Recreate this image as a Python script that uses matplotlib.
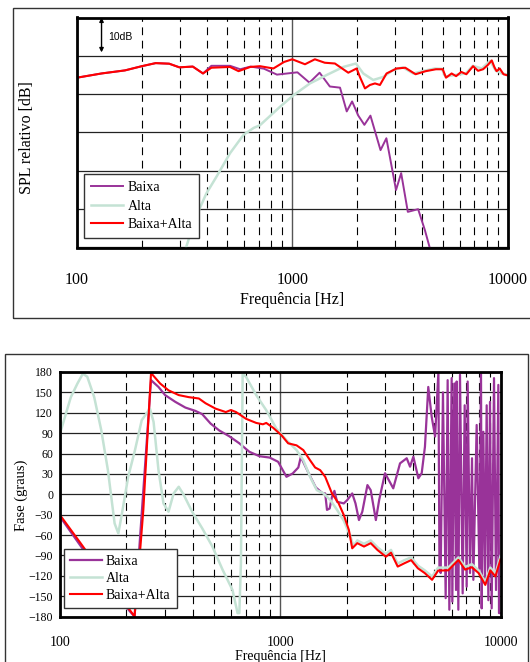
import matplotlib
matplotlib.use("Agg")
import matplotlib.pyplot as plt
from matplotlib.patches import Rectangle
from matplotlib.ticker import FixedLocator, NullFormatter

plt.rcParams['font.family'] = ['Liberation Serif', 'DejaVu Serif']

# ---------------- SPL (top chart) ----------------
f_spl_baixa = [100, 130, 167, 200, 232, 268, 299, 345, 385, 421, 470, 514, 573, 640, 738,
               849, 1057, 1202, 1340, 1495, 1667, 1791, 1897, 2027, 2163, 2308, 2571,
               2737, 3035, 3206, 3443, 3844, 4134, 4398]
spl_baixa = [-5.7, -4.6, -3.8, -2.7, -1.9, -2.05, -3.0, -2.8, -4.6, -2.6, -2.6, -2.6, -3.5,
             -2.8, -3.35, -4.9, -4.3, -7.0, -4.4, -8.0, -8.3, -14.5, -11.9, -15.6, -18.0,
             -15.6, -24.6, -21.5, -35.0, -30.6, -40.7, -40.0, -45.5, -51.0]

f_spl_alta = [321, 357, 399, 445, 514, 594, 662, 708, 877, 1012, 1208, 1445, 1726, 1976,
              2138, 2377, 2648, 2945, 3260, 3650, 4100, 4600, 4950, 5150, 5700, 6400, 6900,
              7600, 8300, 8800, 9400, 10000]
spl_alta = [-50.0, -42.0, -35.9, -31.5, -25.4, -20.6, -18.8, -18.1, -13.3, -10.3, -7.2, -5.0,
            -2.9, -2.0, -4.6, -6.3, -5.5, -3.7, -3.0, -4.6, -3.9, -3.3, -3.4, -5.4, -5.0,
            -4.6, -2.6, -3.3, -1.3, -3.8, -4.6, -4.9]

f_spl_soma = [100, 130, 167, 200, 232, 268, 299, 345, 385, 421, 514, 563, 638, 708, 817,
              916, 1000, 1146, 1274, 1416, 1578, 1821, 1991, 2062, 2177, 2296, 2423, 2555,
              2742, 3053, 3350, 3740, 4170, 4650, 5000, 5180, 5500, 5770, 6100, 6440, 6920,
              7300, 7700, 8100, 8450, 8700, 8900, 9200, 9580, 10000]
spl_soma = [-5.7, -4.6, -3.8, -2.7, -1.9, -2.05, -3.0, -2.8, -4.6, -3.1, -2.9, -4.0, -2.9,
            -2.7, -3.3, -1.6, -0.9, -2.2, -0.9, -1.8, -2.0, -4.4, -3.3, -5.5, -8.5, -7.6,
            -7.2, -7.6, -4.6, -3.3, -3.1, -4.8, -4.0, -3.5, -3.5, -5.7, -4.6, -5.3, -4.2,
            -4.8, -2.7, -3.9, -3.5, -2.4, -1.2, -3.0, -4.0, -3.3, -4.8, -5.1]

# ---------------- Phase (bottom chart) ----------------
f_fase_baixa = [100, 124, 160, 207, 218, 259, 280, 300, 334, 371, 412, 442, 483, 528, 586,
                652, 724, 805, 895, 978, 1067, 1139, 1208, 1240, 1350, 1450, 1550, 1600,
                1630, 1676, 1717, 1762, 1811, 1943, 2014, 2122, 2196, 2277, 2358, 2488,
                2575, 2717, 2812, 2990, 3259, 3498, 3751, 3884, 4021, 4237, 4387, 4539,
                4700, 4871, 5047, 5225, 5282, 5351, 5480, 5637, 5755, 5857, 6001, 6043,
                6170, 6281, 6324, 6435, 6548, 6733, 6876, 7021, 7095, 7270, 7424, 7529,
                7795, 8015, 8157, 8214, 8359, 8505, 8655, 8808, 8960, 9119, 9344, 9541,
                9777, 9845, 10000]
fase_baixa = [-33, -76, -125, -172, -180, 168, 158, 146, 136, 127.6, 122.7, 118, 104, 94,
              85.5, 75, 62.5, 56, 54, 47.8, 25.7, 30.6, 39.4, 55, 30, 10, 2, 1.2, -23, -21,
              -3.7, 5, -11, -13.5, -8.6, 1.2, -13.5, -38, -25.7, 13.5, 6, -38, -8.6, 31,
              8.7, 45.5, 53, 40.6, 55.3, 23.5, 31, 70, 158, 114, 85, 180, -107, -116, 150,
              -153, 168, -170, 171, -158, 163, -141, 166, -170, 176, -146, 131, -136, 166,
              -116, 53, -126, 102, -110, 180, -168, 92, -131, 131, -156, 136, -168, 171,
              -141, 161, -175, -175]

f_fase_alta = [100, 112, 120, 127, 133, 143, 154, 165, 177, 184, 190, 204, 219, 235, 256,
               266, 280, 295, 311, 328, 346, 365, 398, 442, 492, 547, 607, 640, 652, 663,
               675, 700, 778, 864, 960, 1067, 1186, 1273, 1366, 1466, 1574, 1688, 1811,
               1943, 2085, 2150, 2238, 2400, 2575, 2762, 3018, 3183, 3414, 3663, 3929, 4215,
               4527, 4890, 5210, 5790, 6440, 6905, 7410, 7950, 8530, 8990, 9480, 10000]
fase_alta = [89.4, 143, 163, 177.6, 173, 143, 94, 35.5, -43, -57.6, -33, 25.7, 65, 109, 126,
             106.5, 35.5, -13.5, -25.7, 1.2, 11, -1.2, -25.7, -50, -77, -111, -141, -175,
             -175, -101, 177.6, 172.6, 146, 123.7, 96.7, 79.6, 65, 50, 25.7, 6, 1.2, -8.6,
             -23, -39, -62.4, -76, -68, -73, -68, -78, -88, -82, -102, -97, -93, -105, -112,
             -121, -108, -108, -93, -107, -103, -112, -129, -108, -117, -91]

f_fase_soma = [100, 124, 160, 207, 218, 232, 239, 259, 285, 311, 346, 384, 427, 458, 509,
               566, 597, 630, 700, 778, 834, 864, 927, 1012, 1086, 1186, 1273, 1366, 1440,
               1518, 1600, 1717, 1842, 1943, 2049, 2122, 2238, 2400, 2575, 2762, 3018, 3183,
               3414, 3663, 3929, 4215, 4527, 4890, 5210, 5790, 6440, 6905, 7410, 7950, 8530,
               8990, 9480, 10000]
fase_soma = [-30.6, -72, -122, -170, -180, -76, -23, 178.5, 163, 153, 146, 143, 141, 134,
             126, 121, 124, 121, 111, 105, 103, 105, 98, 87, 75, 72, 65, 50, 39.4, 35.5,
             25.7, 1.2, -13.5, -30.6, -52.6, -79.6, -72, -77, -72, -82, -92, -86, -106.5,
             -101.6, -97, -109, -116, -126, -112.4, -112, -96.7, -111, -107.5, -116,
             -133.5, -112, -121, -96]

cor_baixa = '#993399'
cor_alta = '#c4e2d4'
cor_soma = '#ff0000'
minors = [200, 300, 400, 500, 600, 700, 800, 900, 2000, 3000, 4000, 5000, 6000, 7000, 8000, 9000]


def style_axes(ax, yticks):
    ax.set_xscale('log')
    ax.set_xlim(100, 10000)
    ax.xaxis.set_major_locator(FixedLocator([100, 1000, 10000]))
    ax.xaxis.set_minor_locator(FixedLocator(minors))
    ax.xaxis.set_minor_formatter(NullFormatter())
    ax.set_xticklabels(['100', '1000', '10000'])
    ax.set_yticks(yticks)
    ax.set_ylim(yticks[0], yticks[-1])
    ax.grid(which='minor', axis='x', color='black', lw=0.8, ls=(0, (7, 5)))
    ax.grid(which='major', axis='x', color='#555555', lw=1.0)
    ax.grid(which='major', axis='y', color='#222222', lw=0.9)
    ax.tick_params(which='both', length=0)
    for s in ax.spines.values():
        s.set_linewidth(2)


fig = plt.figure(figsize=(5.3, 6.62), dpi=100)

# outer frames
fig.patches.append(Rectangle((12.5 / 530, 1 - 318 / 662), 540 / 530, 310 / 662,
                             transform=fig.transFigure, fill=False, ec='#333333', lw=1))
fig.patches.append(Rectangle((5 / 530, -0.02), 523 / 530, 1 - 353.5 / 662 + 0.02,
                             transform=fig.transFigure, fill=False, ec='#333333', lw=1))

# ---- top chart ----
ax1 = fig.add_axes([77 / 530, 1 - 247.5 / 662, 430.5 / 530, 230 / 662])
ax1.plot(f_spl_baixa, spl_baixa, color=cor_baixa, lw=1.4, label='Baixa')
ax1.plot(f_spl_alta, spl_alta, color=cor_alta, lw=1.8, label='Alta')
ax1.plot(f_spl_soma, spl_soma, color=cor_soma, lw=1.5, label='Baixa+Alta')
style_axes(ax1, [-50, -40, -30, -20, -10, 0, 10])
ax1.set_yticklabels([])
ax1.tick_params(axis='x', pad=18, labelsize=11.5)
ax1.set_xlabel('Frequência [Hz]', fontsize=11.5)
ax1.xaxis.set_label_coords(0.5, -0.23)
ax1.xaxis.label.set_verticalalignment('center')
ax1.set_ylabel('SPL relativo [dB]', fontsize=11.5)
ax1.yaxis.set_label_coords(-0.116, 0.48)
ax1.yaxis.label.set_verticalalignment('center')
ax1.annotate('', xy=(130, 0.9), xytext=(130, 10),
             arrowprops=dict(arrowstyle='<|-|>', color='black', lw=1, mutation_scale=6,
                             shrinkA=0, shrinkB=0))
ax1.text(139, 4.9, '10dB', family='Liberation Sans', fontsize=7.5, va='center', ha='left')
leg1 = ax1.legend(loc='lower left', bbox_to_anchor=(0.017, 0.04), borderaxespad=0,
                  fontsize=10, handlelength=2.3, handletextpad=0.3, labelspacing=0.4,
                  borderpad=0.5, fancybox=False, framealpha=1, edgecolor='#333333')
leg1.get_frame().set_linewidth(1)

# ---- bottom chart ----
ax2 = fig.add_axes([60 / 530, 1 - 616.5 / 662, 440.5 / 530, 244.5 / 662])
ax2.plot(f_fase_baixa, fase_baixa, color=cor_baixa, lw=1.6, label='Baixa')
ax2.plot(f_fase_alta, fase_alta, color=cor_alta, lw=1.8, label='Alta')
ax2.plot(f_fase_soma, fase_soma, color=cor_soma, lw=1.5, label='Baixa+Alta')
style_axes(ax2, list(range(-180, 181, 30)))
ax2.tick_params(axis='x', pad=14, labelsize=10)
ax2.tick_params(axis='y', pad=5, labelsize=8.5)
ax2.set_xlabel('Frequência [Hz]', fontsize=10)
ax2.xaxis.set_label_coords(0.5, -0.163)
ax2.xaxis.label.set_verticalalignment('center')
ax2.set_ylabel('Fase (graus)', fontsize=10.5)
ax2.yaxis.set_label_coords(-0.087, 0.494)
ax2.yaxis.label.set_verticalalignment('center')
leg2 = ax2.legend(loc='lower left', bbox_to_anchor=(0.008, 0.033), borderaxespad=0,
                  fontsize=10, handlelength=2.3, handletextpad=0.3, labelspacing=0.3,
                  borderpad=0.45, fancybox=False, framealpha=1, edgecolor='#333333')
leg2.get_frame().set_linewidth(1)

fig.savefig('out.png', dpi=100)
